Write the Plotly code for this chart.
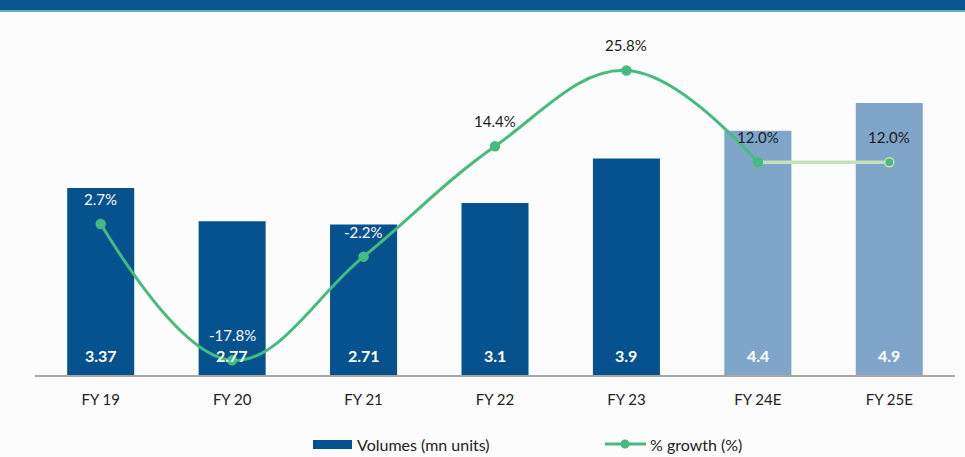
import plotly.graph_objects as go

categories = ["FY 19", "FY 20", "FY 21", "FY 22", "FY 23", "FY 24E", "FY 25E"]
volumes = [3.37, 2.77, 2.71, 3.1, 3.9, 4.4, 4.9]
volume_labels = ["3.37", "2.77", "2.71", "3.1", "3.9", "4.4", "4.9"]
growth = [2.7, -17.8, -2.2, 14.4, 25.8, 12.0, 12.0]
growth_labels = ["2.7%", "-17.8%", "-2.2%", "14.4%", "25.8%", "12.0%", "12.0%"]
growth_label_colors = ["white", "white", "white", "#1a1a1a", "#1a1a1a", "#1a1a1a", "#1a1a1a"]
bar_colors = ["#05528f"] * 5 + ["#7fa6c9"] * 2

W, H = 965, 457
ML, MR, MT, MB = 35, 10, 15, 82
plot_h = H - MT - MB
y1max = plot_h / 55.5
y2min = -20.0
y2max = y2min + plot_h / 6.65

FONT = "Lato"
GREEN = "#45bb7e"
LIGHT_GREEN = "#c3e2b8"

fig = go.Figure()
fig.add_trace(go.Bar(x=categories, y=volumes, marker=dict(color=bar_colors, line=dict(width=0)),
                     name="Volumes (mn units)", showlegend=False, hoverinfo="skip"))
fig.add_trace(go.Scatter(x=categories[:6], y=growth[:6], yaxis="y2", mode="lines",
                         line=dict(color=GREEN, width=3, shape="spline", smoothing=1.1),
                         showlegend=False, hoverinfo="skip"))
fig.add_trace(go.Scatter(x=categories[5:], y=growth[5:], yaxis="y2", mode="lines",
                         line=dict(color=LIGHT_GREEN, width=3.5),
                         showlegend=False, hoverinfo="skip"))
fig.add_trace(go.Scatter(x=categories, y=growth, yaxis="y2", mode="markers",
                         marker=dict(color=GREEN, size=9,
                                     line=dict(color=[GREEN] * 6 + [LIGHT_GREEN], width=1.5)),
                         showlegend=False, hoverinfo="skip"))

annotations = []
for c, lab in zip(categories, volume_labels):
    annotations.append(dict(x=c, y=0, yref="y", text="<b>%s</b>" % lab, showarrow=False,
                            yshift=20, yanchor="middle",
                            font=dict(family=FONT, size=16, color="white")))
for c, g, lab, col in zip(categories, growth, growth_labels, growth_label_colors):
    annotations.append(dict(x=c, y=g, yref="y2", text=lab, showarrow=False,
                            yshift=25, yanchor="middle",
                            font=dict(family=FONT, size=15, color=col)))

leg_y = (H - MB - 444) / plot_h
def px(xp):
    return (xp - ML) / (W - ML - MR)

annotations.append(dict(x=px(355), y=leg_y, xref="paper", yref="paper", text="Volumes (mn units)",
                        showarrow=False, xanchor="left", yanchor="middle",
                        font=dict(family=FONT, size=16, color="#222222")))
annotations.append(dict(x=px(648), y=leg_y, xref="paper", yref="paper", text="% growth (%)",
                        showarrow=False, xanchor="left", yanchor="middle",
                        font=dict(family=FONT, size=16, color="#222222")))

shapes = [
    # header band
    dict(type="rect", xref="paper", yref="paper", x0=px(0), x1=px(W), y0=(H - MB - 10) / plot_h,
         y1=(H - MB + 2) / plot_h, fillcolor="#0a5494", line=dict(width=0), layer="above"),
    dict(type="line", xref="paper", yref="paper", x0=px(0), x1=px(W), y0=(H - MB - 11) / plot_h,
         y1=(H - MB - 11) / plot_h, line=dict(color="#2e9c9c", width=1.5)),
    # legend swatches
    dict(type="rect", xref="paper", yref="paper", x0=px(313), x1=px(352),
         y0=(H - MB - 449) / plot_h, y1=(H - MB - 440) / plot_h,
         fillcolor="#05528f", line=dict(width=0)),
    dict(type="line", xref="paper", yref="paper", x0=px(605), x1=px(646), y0=leg_y, y1=leg_y,
         line=dict(color=GREEN, width=3)),
    dict(type="circle", xref="paper", yref="paper", xsizemode="pixel", ysizemode="pixel",
         xanchor=px(625), yanchor=leg_y, x0=-4.5, x1=4.5, y0=-4.5, y1=4.5,
         fillcolor=GREEN, line=dict(width=0)),
]

fig.update_layout(
    width=W, height=H,
    margin=dict(l=ML, r=MR, t=MT, b=MB),
    paper_bgcolor="#fcfcfc", plot_bgcolor="#fcfcfc",
    bargap=0.49,
    showlegend=False,
    xaxis=dict(showline=True, linecolor="#a6a6a6", linewidth=1.5, showgrid=False, ticks="",
               tickfont=dict(family=FONT, size=15, color="#222222"), ticklabelstandoff=10),
    yaxis=dict(range=[0, y1max], visible=False, showgrid=False, zeroline=False),
    yaxis2=dict(range=[y2min, y2max], overlaying="y", visible=False, showgrid=False, zeroline=False),
    annotations=annotations,
    shapes=shapes,
)

fig.write_html("out.html")
